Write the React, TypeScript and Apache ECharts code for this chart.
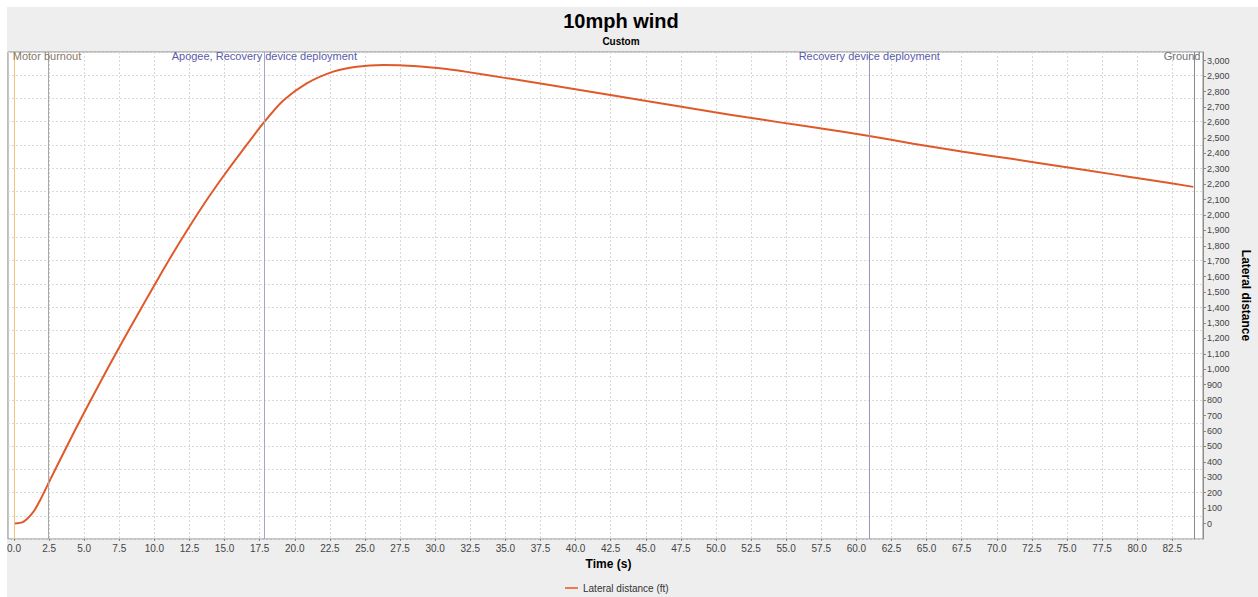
import React, { useEffect, useRef } from "react";
import * as echarts from "echarts";

// Flight time (s) and lateral distance (ft)
const times = [0, 0.66, 1.38, 1.85, 2.5, 3.75, 5.0, 6.25, 7.5, 8.75, 10.0, 11.25, 12.5, 13.75, 15.0, 16.25, 17.83, 19.18, 20.85, 22.74, 24.41, 26.3, 28.44, 30.82, 32.48, 34.85, 37.94, 40.31, 42.69, 45.06, 47.44, 49.81, 52.19, 54.56, 57.4, 60.92, 64.05, 67.61, 71.17, 74.74, 78.3, 80.67, 84.0];
const lateral = [0, 11, 76, 150, 270, 498, 720, 934, 1143, 1345, 1545, 1740, 1925, 2100, 2262, 2415, 2603, 2742, 2853, 2929, 2961, 2972, 2966, 2946, 2924, 2890, 2846, 2810, 2774, 2738, 2703, 2667, 2633, 2600, 2562, 2512, 2462, 2410, 2362, 2312, 2263, 2230, 2182];

// Flight events
const eventTimes = [0, 2.42, 17.83, 60.92, 84.05];
const eventLabels = ["", "Motor burnout", "Apogee, Recovery device deployment", "Recovery device deployment", "Ground"];
const eventLineColors = ["#f2c27a", "#a8a8a8", "#a4a4cc", "#9898b8", "#8a8a8a"];
const eventLabelColors = ["#c08040", "#8a7866", "#5a5aa8", "#5a5aa8", "#707070"];
const eventLabelOffsets = [0, -1, 0, 0, -12];

const Y_MIN = -100;
const Y_MAX = 3056;
const X_MAX = 84.69;

export default function App() {
  const ref = useRef<HTMLDivElement>(null);
  useEffect(() => {
    if (!ref.current) return;
    const chart = echarts.init(ref.current, null, { renderer: "svg" });
    const font = "'Liberation Sans', Arial, sans-serif";
    const data = times.map((t, i) => [t, lateral[i]]);
    chart.setOption({
      animation: false,
      backgroundColor: "#eeeeee",
      textStyle: { fontFamily: font },
      title: [
        { text: "10mph wind", left: 609, top: -1, textAlign: "center", textStyle: { fontSize: 20, fontWeight: "bold", color: "#000", fontFamily: font } },
        { text: "Custom", left: 609, top: 24, textAlign: "center", textStyle: { fontSize: 10, fontWeight: "bold", color: "#000", fontFamily: font } },
      ],
      legend: {
        left: 553,
        top: 571,
        icon: "rect",
        itemWidth: 13,
        itemHeight: 2,
        textStyle: { fontSize: 10, color: "#333", fontFamily: font },
        data: [{ name: "Lateral distance (ft)", itemStyle: { color: "#f07a50" } }],
      },
      grid: [
        { left: 1, right: 55, top: 45, bottom: 58, show: true, backgroundColor: "#ffffff", borderColor: "#8c8c8c", borderWidth: 1, containLabel: false, outerBoundsMode: "none" },
        { left: 7, right: 55, top: 45, bottom: 58, show: false, containLabel: false, outerBoundsMode: "none" },
      ],
      xAxis: [
        { type: "value", gridIndex: 0, min: 0, max: 1, show: false, axisLine: { onZero: false } },
        {
          type: "value",
          gridIndex: 1,
          min: 0,
          max: X_MAX,
          interval: 2.5,
          name: "Time (s)",
          nameLocation: "middle",
          nameGap: 19,
          nameTextStyle: { fontSize: 12, fontWeight: "bold", color: "#000", fontFamily: font },
          axisLine: { show: false, onZero: false },
          axisTick: { show: true, length: 2, lineStyle: { color: "#888" } },
          axisLabel: { fontSize: 10, color: "#444", margin: 4, showMaxLabel: false, formatter: (v: number) => v.toFixed(1), fontFamily: font },
          splitLine: { show: true, lineStyle: { color: "#d8d8d8", type: [2, 2], width: 1 } },
        },
      ],
      yAxis: [
        {
          type: "value",
          gridIndex: 0,
          min: 0,
          max: 21,
          interval: 1,
          axisLine: { show: false, onZero: false },
          axisTick: { show: false },
          axisLabel: { show: false },
          splitLine: { show: true, lineStyle: { color: "#d8d8d8", type: [2, 2], width: 1 } },
        },
        {
          type: "value",
          gridIndex: 1,
          position: "right",
          min: Y_MIN,
          max: Y_MAX,
          interval: 100,
          name: "Lateral distance",
          nameLocation: "middle",
          nameRotate: -90,
          nameGap: 29,
          nameTextStyle: { fontSize: 12, fontWeight: "bold", color: "#000", fontFamily: font },
          axisLine: { show: true, onZero: false, lineStyle: { color: "#8c8c8c" } },
          axisTick: { show: true, length: 3, lineStyle: { color: "#888" } },
          axisLabel: {
            fontSize: 9,
            color: "#444",
            margin: 4,
            showMinLabel: false,
            showMaxLabel: false,
            fontFamily: font,
            formatter: (v: number) => v.toLocaleString("en-US"),
          },
          splitLine: { show: false },
        },
      ],
      series: [
        {
          name: "Lateral distance (ft)",
          type: "line",
          xAxisIndex: 1,
          yAxisIndex: 1,
          data,
          smooth: 0.25,
          showSymbol: false,
          symbol: "none",
          lineStyle: { color: "#e0592a", width: 2 },
          itemStyle: { color: "#e0592a" },
          markLine: {
            silent: true,
            symbol: ["none", "none"],
            label: { show: false },
            data: eventTimes.map((t, i) => ({ xAxis: t, lineStyle: { color: eventLineColors[i], type: "solid", width: 1 } })),
          },
          markPoint: {
            silent: true,
            symbol: "circle",
            symbolSize: 1,
            itemStyle: { color: "rgba(0,0,0,0)" },
            data: eventTimes
              .map((t, i) => ({
                coord: [t, Y_MAX],
                label: {
                  show: eventLabels[i] !== "",
                  position: "bottom",
                  distance: -2,
                  offset: [eventLabelOffsets[i], 0],
                  formatter: eventLabels[i],
                  fontSize: 11,
                  color: eventLabelColors[i],
                  fontFamily: font,
                },
              }))
              .filter((d) => d.label.show),
          },
        },
      ],
    });
    return () => chart.dispose();
  }, []);
  return (
    <div
      ref={ref}
      style={{ position: "absolute", left: 7, top: 7, width: 1251, height: 590 }}
    />
  );
}
